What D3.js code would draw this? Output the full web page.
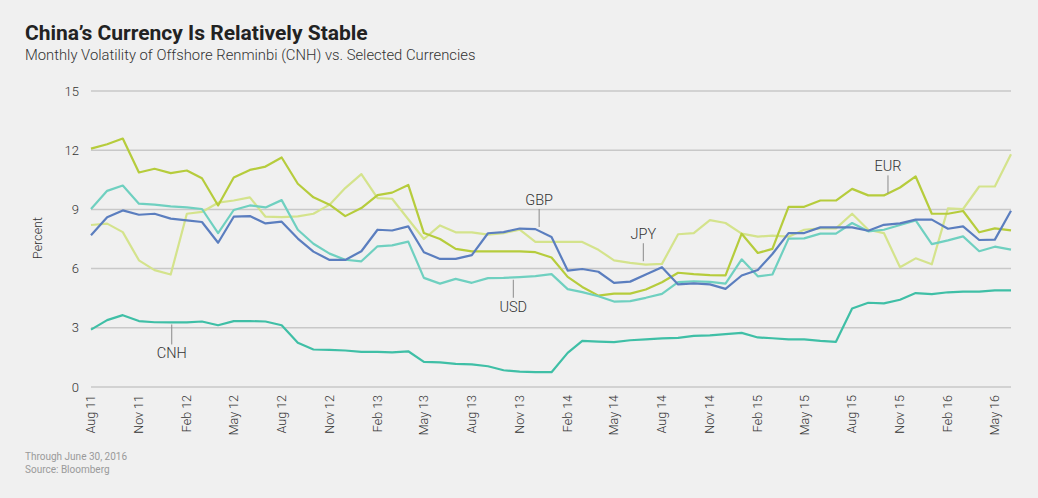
<!DOCTYPE html>
<html>
<head>
<meta charset="utf-8">
<script src="https://cdn.jsdelivr.net/npm/d3@7"></script>
<style>
  body { margin: 0; background: #f0f0f0; }
  svg { display: block; font-family: Roboto, "Noto Sans", sans-serif; }
  .title { font-size: 21px; font-weight: 700; fill: #222; }
  .subtitle { font-size: 14.8px; font-weight: 300; fill: #333; }
  .tick-label { font-size: 12.5px; font-weight: 300; fill: #333; }
  .y-label { font-size: 13px; }
  .axis-title { font-size: 12.5px; font-weight: 300; fill: #333; }
  .grid-line { stroke: #c8c8c8; stroke-width: 1.5; }
  .series { fill: none; stroke-width: 2.2; stroke-linejoin: round; }
  .note { font-size: 14.5px; font-weight: 300; fill: #333; }
  .leader { stroke: #8a8a8a; stroke-width: 1; }
  .footer { font-size: 10px; fill: #9a9a9a; }
</style>
</head>
<body>
<div id="chart"></div>
<script>
//////////////////////////////////////////////////////////////
//////////////////////////// Data ////////////////////////////
//////////////////////////////////////////////////////////////

//Monthly observations, Aug 2011 through Jun 2016
const startMonth = new Date(2011, 7, 1)
const endMonth = new Date(2016, 5, 1)

const cnh = [2.91,3.39,3.64,3.34,3.28,3.27,3.27,3.32,3.13,3.34,3.34,3.32,3.13,2.24,1.90,1.88,1.85,1.78,1.78,1.75,
  1.81,1.27,1.25,1.17,1.15,1.05,0.85,0.78,0.75,0.75,1.73,2.34,2.30,2.27,2.37,2.41,2.46,2.49,2.59,2.62,
  2.68,2.74,2.51,2.47,2.41,2.41,2.34,2.29,3.98,4.27,4.24,4.42,4.76,4.71,4.80,4.83,4.83,4.90,4.90]

const eur = [12.08,12.30,12.59,10.87,11.06,10.84,10.97,10.58,9.20,10.62,11.00,11.17,11.63,10.30,9.61,9.24,8.66,9.07,9.72,9.85,
  10.24,7.80,7.50,7.00,6.87,6.87,6.87,6.87,6.83,6.56,5.58,5.07,4.63,4.73,4.73,4.94,5.31,5.79,5.72,5.67,
  5.66,7.77,6.79,7.00,9.13,9.13,9.45,9.45,10.04,9.71,9.71,10.11,10.67,8.78,8.78,8.92,7.84,8.04,7.94]

const jpy = [8.21,8.28,7.85,6.42,5.92,5.70,8.78,8.87,9.34,9.45,9.61,8.63,8.61,8.65,8.78,9.24,10.08,10.79,9.57,9.54,
  8.50,7.50,8.19,7.84,7.84,7.72,7.80,7.97,7.35,7.35,7.36,7.35,6.95,6.42,6.29,6.20,6.24,7.74,7.80,8.46,
  8.31,7.77,7.62,7.67,7.62,7.97,8.04,8.04,8.78,7.97,7.80,6.07,6.52,6.22,9.05,9.02,10.16,10.16,11.80]

const gbp = [7.69,8.60,8.95,8.73,8.78,8.53,8.44,8.36,7.31,8.63,8.66,8.29,8.38,7.52,6.86,6.44,6.44,6.88,7.97,7.93,
  8.14,6.83,6.49,6.49,6.68,7.79,7.85,8.03,8.00,7.60,5.90,5.98,5.84,5.28,5.34,5.70,6.07,5.20,5.25,5.20,
  4.97,5.65,5.93,6.74,7.80,7.80,8.09,8.09,8.09,7.92,8.22,8.29,8.48,8.48,8.02,8.14,7.45,7.47,8.93]

const usd = [9.02,9.94,10.21,9.29,9.24,9.15,9.10,9.02,7.80,8.97,9.20,9.10,9.47,7.97,7.26,6.76,6.45,6.37,7.13,7.18,
  7.37,5.53,5.24,5.48,5.28,5.52,5.53,5.57,5.62,5.72,4.96,4.81,4.60,4.33,4.35,4.52,4.72,5.31,5.36,5.33,
  5.24,6.47,5.61,5.70,7.52,7.53,7.77,7.77,8.31,7.89,7.97,8.21,8.44,7.24,7.43,7.63,6.88,7.11,6.96]

const seriesNames = ["JPY", "EUR", "USD", "GBP", "CNH"]
const seriesValues = [jpy, eur, usd, gbp, cnh]
const seriesColors = ["#d4e38c", "#b6cc3c", "#6fd0c0", "#5b7ebf", "#3fbfa6"]

const yTicks = [0, 3, 6, 9, 12, 15]
const xTickLabels = ["Aug 11","Nov 11","Feb 12","May 12","Aug 12","Nov 12","Feb 13","May 13","Aug 13","Nov 13",
  "Feb 14","May 14","Aug 14","Nov 14","Feb 15","May 15","Aug 15","Nov 15","Feb 16","May 16"]

//Callout labels: series name and the (fractional) month it points at
const calloutNames = ["GBP", "JPY", "EUR", "USD", "CNH"]
const calloutMonths = [27.75, 34.2, 49.35, 26.15, 5]
const calloutSides = ["up", "up", "up", "down", "down"]

//////////////////////////////////////////////////////////////
///////////////////////// Create SVG /////////////////////////
//////////////////////////////////////////////////////////////

const width = 1038
const height = 498
const margin = { top: 91, right: 27, bottom: 111, left: 91 }

const svg = d3.select("#chart")
  .append("svg")
  .attr("width", width)
  .attr("height", height)

svg.append("rect")
  .attr("width", width)
  .attr("height", height)
  .attr("fill", "#f0f0f0")

//////////////////////////////////////////////////////////////
/////////////////////////// Scales ///////////////////////////
//////////////////////////////////////////////////////////////

const x = d3.scaleTime()
  .domain([startMonth, endMonth])
  .range([margin.left, width - margin.right])

const y = d3.scaleLinear()
  .domain([0, 15])
  .range([height - margin.bottom, margin.top])

const monthAt = i => d3.timeMonth.offset(startMonth, i)
const tickMonths = xTickLabels.map((d, i) => monthAt(i * 3))

//////////////////////////////////////////////////////////////
////////////////////////// Titles ////////////////////////////
//////////////////////////////////////////////////////////////

svg.append("text")
  .attr("class", "title")
  .attr("x", 25)
  .attr("y", 40)
  .text("China\u2019s Currency Is Relatively Stable")

svg.append("text")
  .attr("class", "subtitle")
  .attr("x", 25)
  .attr("y", 60)
  .text("Monthly Volatility of Offshore Renminbi (CNH) vs. Selected Currencies")

//////////////////////////////////////////////////////////////
/////////////////////////// Axes /////////////////////////////
//////////////////////////////////////////////////////////////

const grid = svg.append("g").attr("class", "grid-group")

grid.selectAll(".grid-line")
  .data(yTicks)
  .enter().append("line")
  .attr("class", "grid-line")
  .attr("x1", x.range()[0])
  .attr("x2", x.range()[1])
  .attr("y1", d => y(d))
  .attr("y2", d => y(d))

grid.selectAll(".y-label")
  .data(yTicks)
  .enter().append("text")
  .attr("class", "tick-label y-label")
  .attr("x", 79)
  .attr("y", d => y(d))
  .attr("dy", "0.35em")
  .attr("text-anchor", "end")
  .text(d => d)

svg.append("text")
  .attr("class", "axis-title")
  .attr("transform", "translate(42," + 238 + ") rotate(-90)")
  .attr("text-anchor", "middle")
  .text("Percent")

grid.selectAll(".x-label")
  .data(tickMonths)
  .enter().append("text")
  .attr("class", "tick-label x-label")
  .attr("transform", d => "translate(" + x(d) + "," + (y(0) + 8) + ") rotate(-90)")
  .attr("dy", "0.35em")
  .attr("text-anchor", "end")
  .text((d, i) => xTickLabels[i])

//////////////////////////////////////////////////////////////
/////////////////////////// Lines ////////////////////////////
//////////////////////////////////////////////////////////////

const line = d3.line()
  .x((d, i) => x(monthAt(i)))
  .y(d => y(d))

svg.append("g")
  .attr("class", "series-group")
  .selectAll(".series")
  .data(seriesValues)
  .enter().append("path")
  .attr("class", "series")
  .attr("stroke", (d, i) => seriesColors[i])
  .attr("d", line)

//////////////////////////////////////////////////////////////
////////////////////////// Callouts //////////////////////////
//////////////////////////////////////////////////////////////

//value of a series at a fractional month index
function valueAt(values, m) {
  const i0 = Math.floor(m)
  const t = m - i0
  const i1 = Math.min(i0 + 1, values.length - 1)
  return values[i0] * (1 - t) + values[i1] * t
}

const callouts = svg.append("g").attr("class", "callout-group")
const monthWidth = x(monthAt(1)) - x(monthAt(0))

calloutNames.forEach((name, k) => {
  const m = calloutMonths[k]
  const values = seriesValues[seriesNames.indexOf(name)]
  const cx = x(startMonth) + monthWidth * m
  const cy = y(valueAt(values, m))
  const up = calloutSides[k] === "up"
  const len = name === "CNH" ? 22 : 20

  callouts.append("line")
    .attr("class", "leader")
    .attr("x1", cx)
    .attr("x2", cx)
    .attr("y1", up ? cy - 2 : cy + 2)
    .attr("y2", up ? cy - len : cy + len)

  callouts.append("text")
    .attr("class", "note")
    .attr("x", cx)
    .attr("y", up ? cy - len - 4 : cy + len + 14)
    .attr("text-anchor", "middle")
    .text(name)
})

//////////////////////////////////////////////////////////////
/////////////////////////// Footer ///////////////////////////
//////////////////////////////////////////////////////////////

svg.append("text")
  .attr("class", "footer")
  .attr("x", 25)
  .attr("y", 460)
  .text("Through June 30, 2016")

svg.append("text")
  .attr("class", "footer")
  .attr("x", 25)
  .attr("y", 473)
  .text("Source: Bloomberg")
</script>
</body>
</html>
